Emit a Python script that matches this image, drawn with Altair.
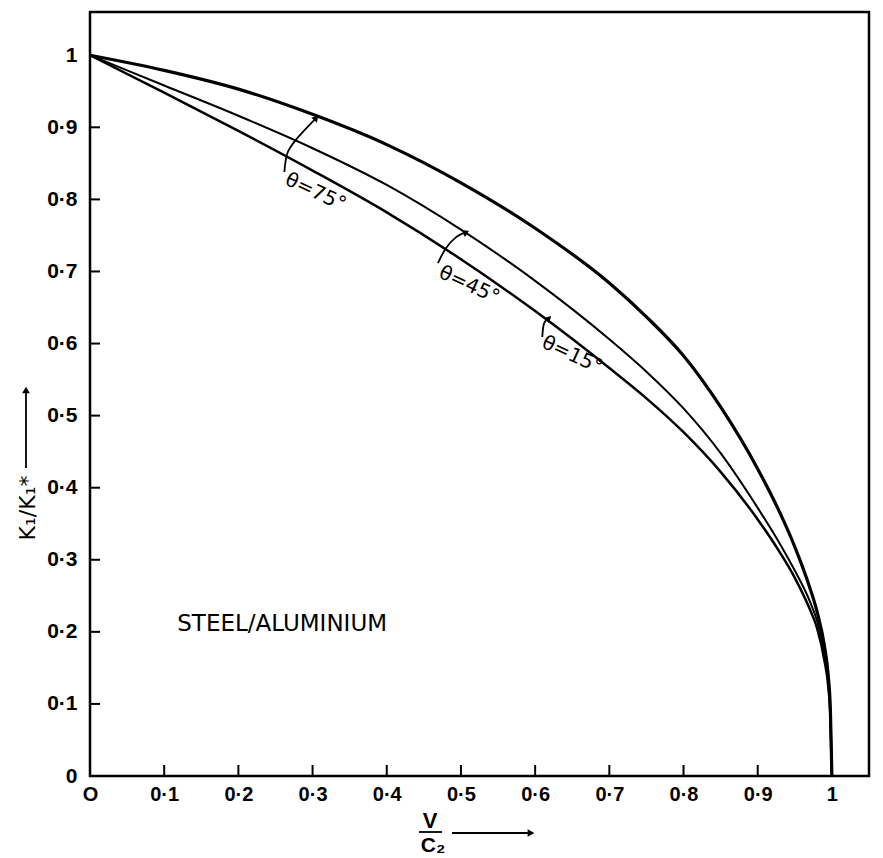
import altair as alt
import pandas as pd

# ---- curve data (V/C2 , K_I/K_I*) ----
v75 = [0, 0.1, 0.2, 0.3, 0.4, 0.5, 0.6, 0.7, 0.75, 0.8, 0.85, 0.9, 0.93, 0.95, 0.97, 0.98, 0.99, 0.995, 0.998, 1.0]
k75 = [1, 0.979, 0.953, 0.918, 0.876, 0.823, 0.760, 0.684, 0.637, 0.583, 0.512, 0.426, 0.365, 0.318, 0.262, 0.228, 0.18, 0.14, 0.09, 0]

v45 = [0, 0.1, 0.2, 0.3, 0.4, 0.5, 0.6, 0.7, 0.75, 0.8, 0.85, 0.9, 0.93, 0.95, 0.97, 0.98, 0.99, 0.995, 0.998, 1.0]
k45 = [1, 0.958, 0.916, 0.871, 0.820, 0.758, 0.687, 0.606, 0.561, 0.510, 0.448, 0.372, 0.322, 0.285, 0.243, 0.215, 0.17, 0.132, 0.085, 0]

v15 = [0, 0.1, 0.2, 0.3, 0.4, 0.5, 0.6, 0.7, 0.75, 0.8, 0.85, 0.9, 0.93, 0.95, 0.97, 0.98, 0.99, 0.995, 0.998, 1.0]
k15 = [1, 0.948, 0.895, 0.840, 0.782, 0.717, 0.645, 0.566, 0.524, 0.477, 0.422, 0.356, 0.310, 0.275, 0.232, 0.205, 0.16, 0.125, 0.08, 0]

# ---- axis ticks ----
x_ticks = [0, 0.1, 0.2, 0.3, 0.4, 0.5, 0.6, 0.7, 0.8, 0.9, 1.0]
y_ticks = [0, 0.1, 0.2, 0.3, 0.4, 0.5, 0.6, 0.7, 0.8, 0.9, 1.0]
inner_ticks = [0.1, 0.2, 0.3, 0.4, 0.5, 0.6, 0.7, 0.8, 0.9]

# ---- annotations ----
labels = ["θ=75°", "θ=45°", "θ=15°"]
label_v = [0.304, 0.511, 0.65]
label_k = [0.81, 0.681, 0.584]

arrow75_v = [0.262, 0.266, 0.277, 0.305]
arrow75_k = [0.838, 0.864, 0.882, 0.913]
arrow45_v = [0.469, 0.4795, 0.4935, 0.507]
arrow45_k = [0.7115, 0.732, 0.7476, 0.7545]
arrow15_v = [0.6096, 0.612, 0.6185]
arrow15_k = [0.609, 0.628, 0.635]

material = "STEEL/ALUMINIUM"
material_v = 0.259
material_k = 0.211

W, H = 779, 764
xs = alt.Scale(domain=[0, 1.05], nice=False, zero=False)
ys = alt.Scale(domain=[0, 1.06], nice=False, zero=False)

lab_expr_x = "datum.value == 0 ? 'O' : datum.value == 1 ? '1' : replace(format(datum.value, '.1f'), '.', '·')"
lab_expr_y = "datum.value == 0 ? '0' : datum.value == 1 ? '1' : replace(format(datum.value, '.1f'), '.', '·')"

xaxis = alt.Axis(values=x_ticks, labelExpr=lab_expr_x, ticks=False, domain=False, grid=False,
                 labelFont="Liberation Sans", labelFontSize=20, labelFontWeight="bold",
                 labelColor="black", labelPadding=8, labelFlush=False, labelOverlap=False, title=None)
yaxis = alt.Axis(values=y_ticks, labelExpr=lab_expr_y, ticks=False, domain=False, grid=False,
                 labelFont="Liberation Sans", labelFontSize=21, labelFontWeight="bold",
                 labelColor="black", labelPadding=13, labelFlush=False, labelOverlap=False, title=None)

X = lambda f: alt.X(f, type="quantitative", scale=xs, axis=xaxis)
Y = lambda f: alt.Y(f, type="quantitative", scale=ys, axis=yaxis)


def curve(v, k, sw):
    df = pd.DataFrame({"v": v, "k": k})
    return alt.Chart(df).mark_line(color="black", strokeWidth=sw, interpolate="monotone").encode(
        x=X("v"), y=Y("k"))


def arrow(v, k, ang):
    df = pd.DataFrame({"v": v, "k": k, "i": list(range(len(v)))})
    line = alt.Chart(df).mark_line(color="black", strokeWidth=1.8, interpolate="cardinal").encode(
        x=X("v"), y=Y("k"), order="i:Q")
    head = alt.Chart(df.tail(1)).mark_point(shape="triangle-up", filled=True, color="black",
                                            size=55, angle=ang, opacity=1).encode(x=X("v"), y=Y("k"))
    return line + head


layers = []
layers.append(curve(v75, k75, 3.2))
layers.append(curve(v45, k45, 2.0))
layers.append(curve(v15, k15, 2.5))

# inward ticks
xt = pd.DataFrame({"v": inner_ticks})
layers.append(alt.Chart(xt).mark_rule(color="black", strokeWidth=2).encode(
    x=X("v"), y=alt.value(H), y2=alt.value(H - 11)))
yt = pd.DataFrame({"k": inner_ticks})
layers.append(alt.Chart(yt).mark_rule(color="black", strokeWidth=2).encode(
    y=Y("k"), x=alt.value(0), x2=alt.value(10)))

# arrows
layers.append(arrow(arrow75_v, arrow75_k, 42))
layers.append(arrow(arrow45_v, arrow45_k, 63))
layers.append(arrow(arrow15_v, arrow15_k, 45))

# theta labels
ldf = pd.DataFrame({"v": label_v, "k": label_k, "t": labels})
layers.append(alt.Chart(ldf).mark_text(font="DejaVu Sans", fontSize=20, angle=25, color="black",
                                       align="center", baseline="middle").encode(
    x=X("v"), y=Y("k"), text="t:N"))

# material label
mdf = pd.DataFrame({"v": [material_v], "k": [material_k], "t": [material]})
layers.append(alt.Chart(mdf).mark_text(font="DejaVu Sans", fontSize=23, color="black",
                                       align="center", baseline="middle").encode(
    x=X("v"), y=Y("k"), text="t:N"))

# y-axis title with upward arrow
one = pd.DataFrame({"a": [0]})
layers.append(alt.Chart(one).mark_text(text="K₁/K₁*", font="DejaVu Sans", fontSize=22, angle=270,
                                       color="black", align="center", baseline="middle").encode(
    x=alt.value(-62), y=alt.value(496)))
layers.append(alt.Chart(one).mark_rule(color="black", strokeWidth=1.8).encode(
    x=alt.value(-64), y=alt.value(456), y2=alt.value(380)))
layers.append(alt.Chart(one).mark_point(shape="triangle-up", filled=True, color="black", size=60,
                                        opacity=1).encode(x=alt.value(-64), y=alt.value(378)))

# x-axis title: V over C2 with arrow
layers.append(alt.Chart(one).mark_text(text="V", font="Liberation Sans", fontSize=22, fontWeight="bold",
                                       color="black", align="center", baseline="middle").encode(
    x=alt.value(340), y=alt.value(809)))
layers.append(alt.Chart(one).mark_rule(color="black", strokeWidth=1.8).encode(
    x=alt.value(329), x2=alt.value(352), y=alt.value(820)))
layers.append(alt.Chart(one).mark_text(text="C₂", font="Liberation Sans", fontSize=21, fontWeight="bold",
                                       color="black", align="center", baseline="middle").encode(
    x=alt.value(343), y=alt.value(834)))
layers.append(alt.Chart(one).mark_rule(color="black", strokeWidth=1.8).encode(
    x=alt.value(362), x2=alt.value(438), y=alt.value(821)))
layers.append(alt.Chart(one).mark_point(shape="triangle-right", filled=True, color="black", size=60,
                                        opacity=1).encode(x=alt.value(441), y=alt.value(821)))

chart = alt.layer(*layers).properties(
    width=W, height=H,
    autosize=alt.AutoSizeParams(type="none"),
    padding={"left": 82, "top": 4, "right": 6, "bottom": 80},
    background="white",
).configure_view(stroke="black", strokeWidth=2.5)

chart.save("out.html", embed_options={"renderer": "svg", "actions": False})
